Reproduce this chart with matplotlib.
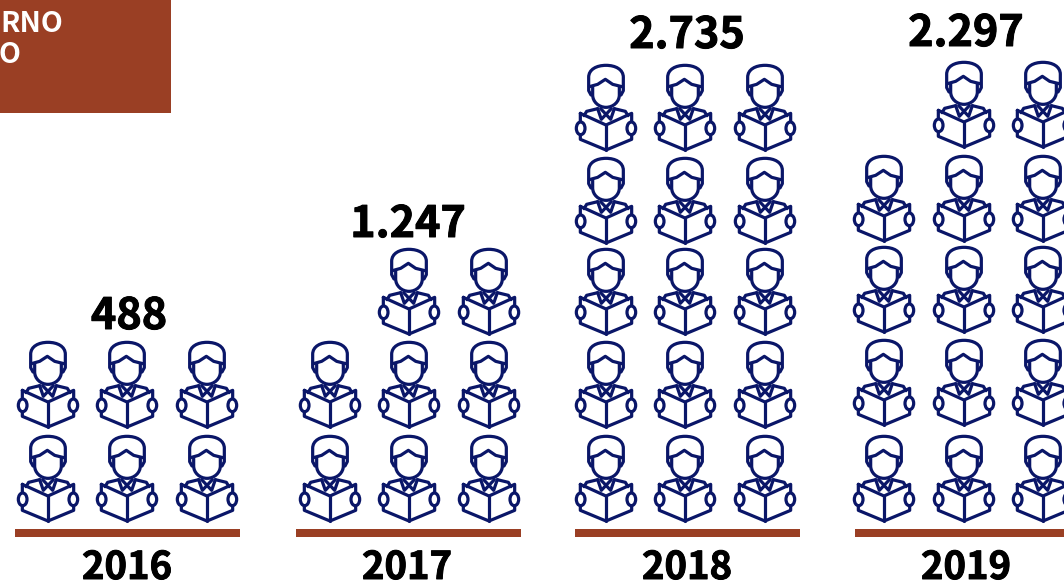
import matplotlib
matplotlib.use('Agg')
import matplotlib.pyplot as plt
import matplotlib.patheffects as pe
from matplotlib.path import Path
from matplotlib.patches import PathPatch, Rectangle, Ellipse

years = ['2016', '2017', '2018', '2019']
value_labels = ['488', '1.247', '2.735', '2.297']
# icons standing in each of the three columns of a group
icons_per_column = [[2, 2, 2], [2, 3, 3], [5, 5, 5], [4, 5, 5]]
header_lines = ['RNO', 'O']

RUST = '#9A3F24'
NAVY = '#0A1668'
FONT = ['Noto Sans CJK JP', 'DejaVu Sans']
LW = 2.3

# layout in reference pixels
group_left = [15, 296, 575, 855]
group_width = 224.5
column_x = [[48, 127, 207], [330, 409, 489], [606, 685, 765], [884, 964, 1043]]
row_bottoms = [[521, 427], [521, 427, 334], [521, 427, 334, 243, 150], [521, 425, 332, 241, 147]]
value_pos = [(129, 316), (408, 224), (687, 35), (966, 33)]
year_x = [127, 407, 687, 966]


def icon_paths():
    # one reader, drawn at 3x with the book's spine foot at (0, 0)
    M, L, C = Path.MOVETO, Path.LINETO, Path.CURVE4
    parts = [
        # hair
        ([(-45, -165), (-52, -178), (-52, -218), (-52, -242), (-28, -254), (0, -254), (28, -254), (52, -242), (52, -218), (52, -178), (45, -165)],
         [M, L, L, C, C, C, C, C, C, L, L]),
        # fringe
        ([(-50, -190), (-25, -197), (-2, -212), (20, -197), (48, -190)], [M, L, L, L, L]),
        # face
        ([(-40, -190), (-40, -165), (-40, -145), (-22, -128), (0, -128), (22, -128), (40, -145), (40, -165), (40, -190)],
         [M, L, C, C, C, C, C, L, L]),
        # shoulders
        ([(-66, -103), (-58, -116), (-25, -124)], [M, L, L]),
        ([(66, -103), (58, -116), (25, -124)], [M, L, L]),
        # collar
        ([(-25, -124), (-14, -92), (16, -124)], [M, L, L]),
        ([(25, -124), (14, -92), (-16, -124)], [M, L, L]),
        # book
        ([(-77, -110), (-77, -32), (0, 0), (77, -32), (77, -110), (0, -75), (-77, -110)], [M, L, L, L, L, L, L]),
        ([(0, -75), (0, 0)], [M, L]),
    ]
    return [Path(v, c) for v, c in parts]


def draw_reader(ax, x, bottom):
    tr = matplotlib.transforms.Affine2D().scale(1 / 3).translate(x, bottom) + ax.transData
    for p in icon_paths():
        ax.add_patch(PathPatch(p, fill=False, ec=NAVY, lw=LW, transform=tr, capstyle='round', joinstyle='round'))
    # hands sit on top of the book edge and break it
    for side in (-1, 1):
        ax.add_patch(Ellipse((side * 76, -65), 26, 38, fc='white', ec=NAVY, lw=LW, transform=tr))


fig = plt.figure(figsize=(10.64, 5.82), dpi=100)
ax = fig.add_axes([0, 0, 1, 1])
ax.set_xlim(0, 1064)
ax.set_ylim(582, 0)
ax.axis('off')

heavy = [pe.withStroke(linewidth=0.7, foreground='black')]

ax.add_patch(Rectangle((0, 0), 171, 113, fc=RUST, ec='none'))
ax.text(0, 24, header_lines[0], color='white', fontsize=20.5, fontweight='bold', family=FONT, ha='left', va='center')
ax.text(-1, 55, header_lines[1], color='white', fontsize=20.5, fontweight='bold', family=FONT, ha='left', va='center')

for g, year in enumerate(years):
    ax.add_patch(Rectangle((group_left[g], 529), group_width, 8, fc=RUST, ec='none'))
    ax.text(year_x[g], 579, year, fontsize=27.5, fontweight='bold', family=FONT, color='black', ha='center', va='baseline', path_effects=heavy)
    ax.text(value_pos[g][0], value_pos[g][1], value_labels[g], fontsize=31, fontweight='bold', family=FONT, color='black', ha='center', va='center', path_effects=heavy)
    for c, n in enumerate(icons_per_column[g]):
        for r in range(n):
            draw_reader(ax, column_x[g][c], row_bottoms[g][r])

fig.savefig('out.png', dpi=100)
